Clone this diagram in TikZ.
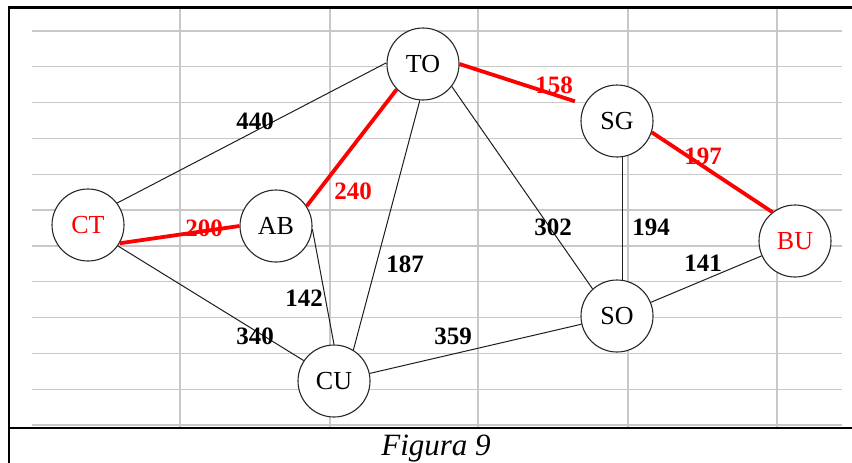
\documentclass[tikz,border=0pt]{standalone}
\usepackage{fontspec}
\setmainfont{Liberation Serif}
\begin{document}
\begin{tikzpicture}[x=1pt,y=-1pt,
  gridline/.style={draw={rgb,255:red,200;green,200;blue,200},line width=1.3pt},
  frameline/.style={draw=black,line width=2.2pt},
  city/.style={circle,draw={rgb,255:red,40;green,40;blue,40},line width=1.1pt,fill=white,minimum size=72pt,inner sep=0pt,font=\fontsize{26}{28}\selectfont},
  thinedge/.style={draw={rgb,255:red,30;green,30;blue,30},line width=1pt},
  redge/.style={draw=red,line width=3.8pt},
  num/.style={inner sep=0pt,font=\fontsize{25}{28}\selectfont\bfseries},
  rnum/.style={num,text=red}]
\useasboundingbox (0,0) rectangle (852,463);
\fill[white] (0,0) rectangle (852,463);
% grid
\foreach \i in {0,...,11} {
  \draw[gridline] (32,{31+\i*35.82}) -- (842,{31+\i*35.82});
}
\foreach \xx in {180,330,478,628,777} {
  \draw[gridline] (\xx,8) -- (\xx,427);
}
% frame
\draw[frameline] (9,463) -- (9,7.5) -- (852,7.5);
\draw[frameline] (9,428) -- (852,428);
% nodes
\node[city,text=red] (CT) at (88,225) {CT};
\node[city] (AB) at (276,226) {AB};
\node[city] (TO) at (423,64) {TO};
\node[city] (CU) at (334,381) {CU};
\node[city] (SG) at (617,121) {SG};
\node[city] (SO) at (617,316) {SO};
\node[city,text=red] (BU) at (795,241) {BU};
% edges
\draw[thinedge] (CT.37) -- (TO.178);
\draw[thinedge] (CT.325) -- (CU.146);
\draw[thinedge] (AB.355) -- (CU.90);
\draw[thinedge] (TO.265) -- (CU.58);
\draw[thinedge] (TO.322) -- (SO.132);
\draw[thinedge] (SG.278) -- (SO.82);
\draw[thinedge] (SO.22) -- (BU.204);
\draw[thinedge] (CU.12) -- (SO.193);
\draw[redge] (CT.330) -- (AB.180);
\draw[redge] (AB.33) -- (TO.224);
\draw[redge,shorten >=10pt] (TO.0) -- (SG.153);
\draw[redge] (SG.342) -- (BU.128);
% labels
\node[num] (l440) at (255,121) {440};
\node[rnum] (l240) at (353,191) {240};
\node[rnum] (l200) at (204,228) {200};
\node[rnum] (l158) at (554,85) {158};
\node[rnum] (l197) at (703,156) {197};
\node[num] (l302) at (553,227) {302};
\node[num] (l194) at (651,227) {194};
\node[num] (l187) at (405,264) {187};
\node[num] (l142) at (304,298) {142};
\node[num] (l340) at (255,336) {340};
\node[num] (l359) at (453,336) {359};
\node[num] (l141) at (703,263) {141};
% caption
\node[anchor=base,inner sep=0pt,font=\fontsize{31}{34}\selectfont\itshape] (cap) at (436,455) {Figura 9};
\end{tikzpicture}
\end{document}
